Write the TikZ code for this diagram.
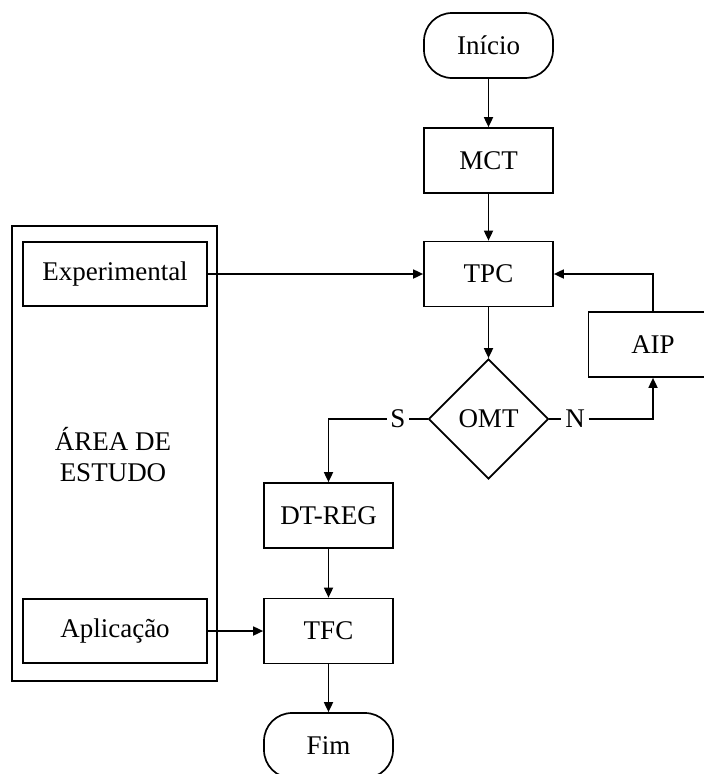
\documentclass[tikz,border=0pt]{standalone}
\usepackage{fontspec}
\setmainfont{Liberation Serif}
\usetikzlibrary{shapes.geometric,arrows.meta}
\begin{document}
\begin{tikzpicture}[x=1pt,y=-1pt,
  font=\fontsize{27}{31}\selectfont,
  line width=1.7pt,
  procbox/.style={draw,minimum width=129pt,minimum height=65pt,inner sep=0pt},
  termbox/.style={draw,rounded corners=28pt,minimum width=129pt,minimum height=65pt,inner sep=0pt},
  sidebox/.style={draw,minimum width=184pt,minimum height=64pt,inner sep=0pt},
  decbox/.style={draw,diamond,minimum width=120pt,minimum height=120pt,inner sep=0pt},
  lbl/.style={inner sep=3pt},
  arr/.style={-{Triangle[length=10pt,width=9pt]}}
]
\useasboundingbox (0,0) rectangle (704,774);
\clip (0,0) rectangle (704,774);
% outer area box
\node[draw,minimum width=205pt,minimum height=455pt,inner sep=0pt] (area) at (114.5,453.5) {};
\node[align=center] (arealbl) at (113,455) {ÁREA DE\\ESTUDO};
\node[sidebox] (exp) at (115,274) {Experimental};
\node[sidebox] (apl) at (115,631) {Aplicação};
% main flow
\node[termbox] (ini) at (488.5,45.5) {Início};
\node[procbox] (mct) at (488.5,160.5) {MCT};
\node[procbox] (tpc) at (488.5,274) {TPC};
\node[decbox] (omt) at (488.5,419) {OMT};
\node[procbox] (aip) at (653,344.5) {AIP};
\node[procbox] (dtreg) at (328.5,515.5) {DT-REG};
\node[procbox] (tfc) at (328.5,631) {TFC};
\node[termbox] (fim) at (328.5,745.5) {Fim};
\node[lbl] (slbl) at (398,419) {S};
\node[lbl] (nlbl) at (575,419) {N};
% connectors
\draw[arr] (ini) -- (mct);
\draw[arr] (mct) -- (tpc);
\draw[arr] (tpc) -- (omt);
\draw (omt.west) -- (slbl.east);
\draw[arr] (slbl.west) -| (dtreg.north);
\draw (omt.east) -- (nlbl.west);
\draw[arr] (nlbl.east) -| (aip.south);
\draw[arr] (aip.north) |- (tpc.east);
\draw[arr] (exp.east) -- (tpc.west);
\draw[arr] (dtreg) -- (tfc);
\draw[arr] (apl) -- (tfc);
\draw[arr] (tfc) -- (fim);
\end{tikzpicture}
\end{document}
